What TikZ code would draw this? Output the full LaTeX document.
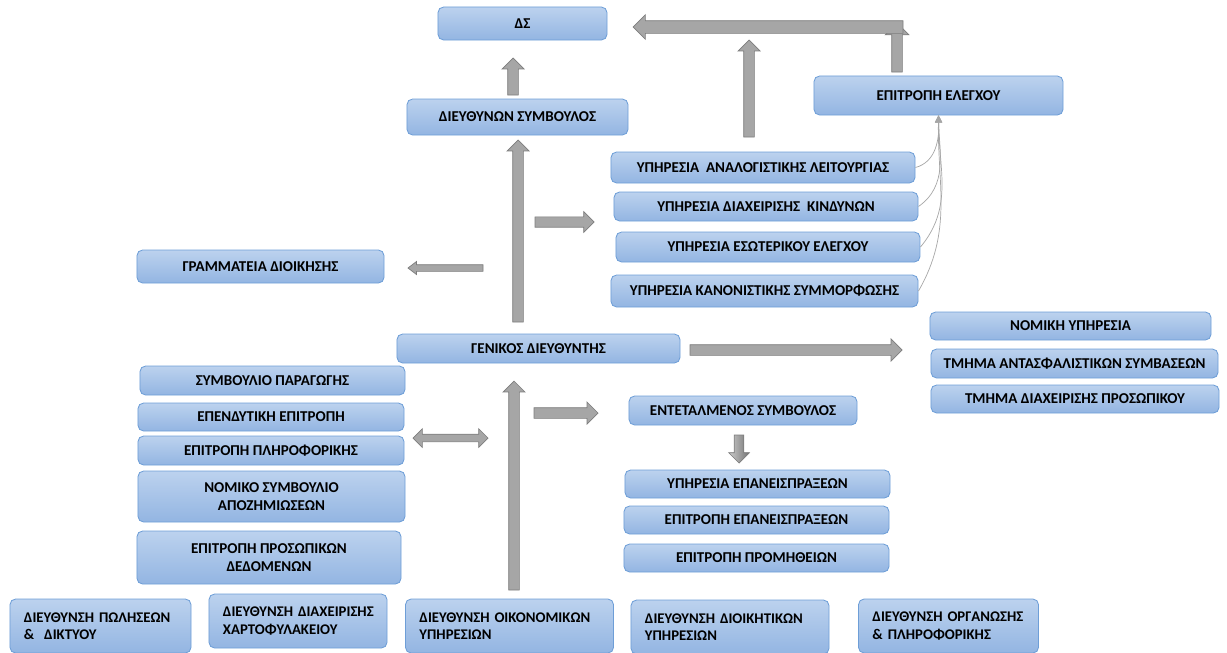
\documentclass[tikz,border=0pt]{standalone}
\usepackage{fontspec}
\setmainfont{Carlito}
\usetikzlibrary{shapes.arrows,calc,arrows.meta}

\definecolor{boxtop}{RGB}{188,210,238}
\definecolor{boxbot}{RGB}{147,181,226}
\definecolor{boxedge}{RGB}{110,158,215}
\definecolor{arrfill}{RGB}{166,166,166}
\definecolor{arredge}{RGB}{125,125,125}

% block arrow from tail to tip
\newcommand{\blockarrow}[3][]{%
  \path let \p1=(#2), \p2=(#3), \n1={veclen(\x2-\x1,\y2-\y1)}, \n2={atan2(\y2-\y1,\x2-\x1)}
    in node[blkarr, #1, anchor=tail, rotate=\n2, minimum height=\n1] at (#2) {};}

\begin{document}
\begin{tikzpicture}[x=0.025cm,y=-0.025cm,
  orgbox/.style={draw=boxedge, line width=0.6pt, rounded corners=4pt,
    top color=boxtop, bottom color=boxbot, align=center, inner sep=2pt,
    font=\fontsize{10.7}{13}\selectfont\bfseries},
  botbox/.style={orgbox, align=left, inner xsep=0.35cm,
    font=\fontsize{10.5}{12.2}\selectfont\bfseries},
  blkarr/.style={single arrow, draw=arredge, fill=arrfill, line width=0.5pt,
    inner xsep=0pt, inner ysep=0.125cm, outer sep=0pt, minimum width=0pt,
    text height=0pt, text depth=0pt, single arrow head extend=0.14cm},
  thinlink/.style={draw=black!35, line width=0.5pt,
    -{Triangle[length=5pt,width=5pt,color=black!35]}}]

\useasboundingbox (0,0) rectangle (1227,652);

% upper part
\node[orgbox, minimum width=4.225cm, minimum height=0.825cm] (DS) at (522.5,23.5) {ΔΣ};
\node[orgbox, minimum width=5.525cm, minimum height=0.9cm] (DSY) at (517.5,117) {ΔΙΕΥΘΥΝΩΝ ΣΥΜΒΟΥΛΟΣ};
\node[orgbox, minimum width=6.225cm, minimum height=0.975cm] (EL) at (938.5,95.5) {ΕΠΙΤΡΟΠΗ ΕΛΕΓΧΟΥ};

\node[orgbox, minimum width=7.6cm, minimum height=0.775cm] (ANA) at (763,167.5) {ΥΠΗΡΕΣΙΑ~ ΑΝΑΛΟΓΙΣΤΙΚΗΣ ΛΕΙΤΟΥΡΓΙΑΣ};
\node[orgbox, minimum width=7.6cm, minimum height=0.725cm] (KIN) at (766,206.5) {ΥΠΗΡΕΣΙΑ ΔΙΑΧΕΙΡΙΣΗΣ~ ΚΙΝΔΥΝΩΝ};
\node[orgbox, minimum width=7.6cm, minimum height=0.75cm] (ESO) at (768,247) {ΥΠΗΡΕΣΙΑ ΕΣΩΤΕΡΙΚΟΥ ΕΛΕΓΧΟΥ};
\node[orgbox, minimum width=7.675cm, minimum height=0.8cm] (KAN) at (764.5,291) {ΥΠΗΡΕΣΙΑ ΚΑΝΟΝΙΣΤΙΚΗΣ ΣΥΜΜΟΡΦΩΣΗΣ};

\node[orgbox, minimum width=6.175cm, minimum height=0.825cm] (GRA) at (260.5,266.5) {ΓΡΑΜΜΑΤΕΙΑ ΔΙΟΙΚΗΣΗΣ};
\node[orgbox, minimum width=7.075cm, minimum height=0.725cm] (GEN) at (538.5,348.5) {ΓΕΝΙΚΟΣ ΔΙΕΥΘΥΝΤΗΣ};

% right column
\node[orgbox, minimum width=7.025cm, minimum height=0.7cm] (NOM) at (1070.5,326) {ΝΟΜΙΚΗ ΥΠΗΡΕΣΙΑ};
\node[orgbox, minimum width=7.175cm, minimum height=0.725cm] (ANT) at (1074.5,363.5) {ΤΜΗΜΑ ΑΝΤΑΣΦΑΛΙΣΤΙΚΩΝ ΣΥΜΒΑΣΕΩΝ};
\node[orgbox, minimum width=7.2cm, minimum height=0.7cm] (PRS) at (1075,399) {ΤΜΗΜΑ ΔΙΑΧΕΙΡΙΣΗΣ ΠΡΟΣΩΠΙΚΟΥ};

% left column
\node[orgbox, minimum width=6.625cm, minimum height=0.725cm] (PAR) at (272.5,380.5) {ΣΥΜΒΟΥΛΙΟ ΠΑΡΑΓΩΓΗΣ};
\node[orgbox, minimum width=6.65cm, minimum height=0.7cm] (EPE) at (271,417) {ΕΠΕΝΔΥΤΙΚΗ ΕΠΙΤΡΟΠΗ};
\node[orgbox, minimum width=6.65cm, minimum height=0.725cm] (PLH) at (271,450.5) {ΕΠΙΤΡΟΠΗ ΠΛΗΡΟΦΟΡΙΚΗΣ};
\node[orgbox, minimum width=6.675cm, minimum height=1.275cm] (NSA) at (271.5,496.5) {ΝΟΜΙΚΟ ΣΥΜΒΟΥΛΙΟ\\ΑΠΟΖΗΜΙΩΣΕΩΝ};
\node[orgbox, minimum width=6.6cm, minimum height=1.325cm] (EPD) at (269,557.5) {ΕΠΙΤΡΟΠΗ ΠΡΟΣΩΠΙΚΩΝ\\ΔΕΔΟΜΕΝΩΝ};

% middle column
\node[orgbox, minimum width=5.7cm, minimum height=0.725cm] (ENT) at (743,410.5) {ΕΝΤΕΤΑΛΜΕΝΟΣ ΣΥΜΒΟΥΛΟΣ};
\node[orgbox, minimum width=6.625cm, minimum height=0.7cm] (YEP) at (757.5,484) {ΥΠΗΡΕΣΙΑ ΕΠΑΝΕΙΣΠΡΑΞΕΩΝ};
\node[orgbox, minimum width=6.625cm, minimum height=0.7cm] (EEP) at (756.5,520) {ΕΠΙΤΡΟΠΗ ΕΠΑΝΕΙΣΠΡΑΞΕΩΝ};
\node[orgbox, minimum width=6.625cm, minimum height=0.7cm] (EPR) at (756.5,558) {ΕΠΙΤΡΟΠΗ ΠΡΟΜΗΘΕΙΩΝ};

% bottom row
\node[botbox, text width=3.825cm, minimum height=1.35cm] (DPO) at (100.5,626) {ΔΙΕΥΘΥΝΣΗ~ΠΩΛΗΣΕΩΝ\\\&~~ΔΙΚΤΥΟΥ};
\node[botbox, text width=3.75cm, minimum height=1.35cm] (DXA) at (298,621) {ΔΙΕΥΘΥΝΣΗ~ΔΙΑΧΕΙΡΙΣΗΣ\\ΧΑΡΤΟΦΥΛΑΚΕΙΟΥ};
\node[botbox, text width=4.5cm, minimum height=1.35cm] (DOI) at (509.5,626) {ΔΙΕΥΘΥΝΣΗ~ΟΙΚΟΝΟΜΙΚΩΝ\\ΥΠΗΡΕΣΙΩΝ};
\node[botbox, text width=4.25cm, minimum height=1.35cm] (DDI) at (730,627) {ΔΙΕΥΘΥΝΣΗ~ΔΙΟΙΚΗΤΙΚΩΝ\\ΥΠΗΡΕΣΙΩΝ};
\node[botbox, text width=3.8cm, minimum height=1.35cm] (DOR) at (948.5,626) {ΔΙΕΥΘΥΝΣΗ~ΟΡΓΑΝΩΣΗΣ\\\&~ΠΛΗΡΟΦΟΡΙΚΗΣ};

% arrow ends
\coordinate (dsyS) at (513,95);  \coordinate (dsyT) at (513,58);
\coordinate (genS) at (518,322); \coordinate (genT) at (518,140);
\coordinate (srvS) at (749,137); \coordinate (srvT) at (749,40);
\coordinate (elS) at (897,72);   \coordinate (elT) at (897,23);
\coordinate (topS) at (903,27);  \coordinate (topT) at (633,27);
\coordinate (rgtS) at (535,222); \coordinate (rgtT) at (594,222);
\coordinate (graS) at (483,268); \coordinate (graT) at (408,268);
\coordinate (nomS) at (690,350); \coordinate (nomT) at (902,350);
\coordinate (botS) at (514,590); \coordinate (botT) at (514,381);
\coordinate (dblA) at (413,438); \coordinate (dblB) at (488,438);
\coordinate (entS) at (534,413); \coordinate (entT) at (598,413);
\coordinate (epaS) at (739,435); \coordinate (epaT) at (739,463);

\blockarrow{dsyS}{dsyT}
\blockarrow{genS}{genT}
\blockarrow{srvS}{srvT}
\blockarrow[single arrow head extend=0.16cm]{elS}{elT}
\blockarrow[inner ysep=0.15cm, single arrow head extend=0.15cm]{topS}{topT}
\blockarrow[inner ysep=0.12cm, single arrow head extend=0.13cm]{rgtS}{rgtT}
\blockarrow[inner ysep=0.075cm, single arrow head extend=0.08cm, single arrow tip angle=75]{graS}{graT}
\blockarrow{nomS}{nomT}
\blockarrow{botS}{botT}
\blockarrow{entS}{entT}
\blockarrow[inner ysep=0.11cm, single arrow head extend=0.14cm, left color=black!20, right color=black!55]{epaS}{epaT}
\path let \p1=(dblA), \p2=(dblB), \n1={veclen(\x2-\x1,\y2-\y1)} in
  node[double arrow, draw=arredge, fill=arrfill, line width=0.5pt, inner xsep=0pt,
    inner ysep=0.0875cm, outer sep=0pt, minimum width=0pt, text height=0pt, text depth=0pt,
    double arrow head extend=0.1375cm, minimum height=\n1] (dbl) at ($(dblA)!0.5!(dblB)$) {};

% links to the audit committee
\draw[thinlink] (ANA.east) to[out=15,in=-88] (EL.south);
\draw[thinlink] (KIN.east) to[out=35,in=-89] (EL.south);
\draw[thinlink] (ESO.east) to[out=50,in=-90] (EL.south);
\draw[thinlink] (KAN.east) to[out=60,in=-91] (EL.south);

\end{tikzpicture}
\end{document}
